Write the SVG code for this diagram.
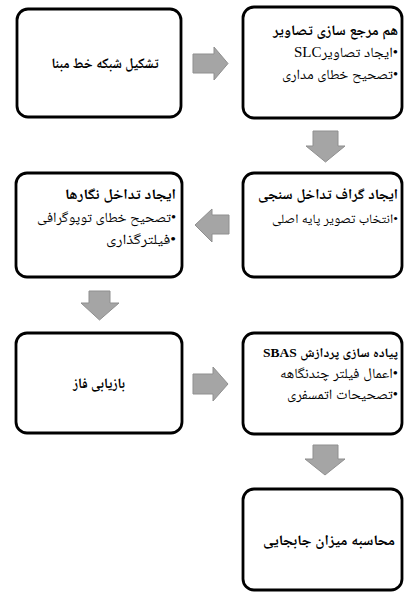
<svg xmlns="http://www.w3.org/2000/svg" width="405" height="592" viewBox="0 0 405 592">
<style>
.box{fill:#fff;stroke:#000;stroke-width:2.8}
.arr{fill:#a5a5a5;stroke:#8f8f8f;stroke-width:1}
text{font-family:"Liberation Serif","Noto Naskh Arabic","Noto Sans Arabic","DejaVu Sans",serif;fill:#000;direction:rtl;unicode-bidi:embed}
.t{font-size:14.5px;font-weight:bold}
.b{font-size:14px}
.s{font-size:13px}
.c{text-anchor:middle}
.r{text-anchor:start}
</style>
<rect width="405" height="592" fill="#fff"/>
<g id="connectors">
<polygon class="arr" points="193,54 214,54 214,47 228,63.5 214,80 214,73 193,73"/>
<polygon class="arr" points="313,131 338,131 338,146 345,146 325.5,162 306,146 313,146"/>
<polygon class="arr" points="229,215 212,215 212,209 195,225 212,242 212,234 229,234"/>
<polygon class="arr" points="89,291 110,291 110,303 119,303 99.5,320 81,303 89,303"/>
<polygon class="arr" points="193,374 213,374 213,367 228,384 213,401 213,394 193,394"/>
<polygon class="arr" points="313,445 338,445 338,459 345,459 325,475 305,459 313,459"/>
</g>
<g id="n1">
<rect class="box" x="17" y="9" width="164" height="108" rx="11"/>
<text class="t c" x="105" y="68" textLength="107" lengthAdjust="spacingAndGlyphs">تشکیل شبکه خط مبنا</text>
</g>
<g id="n2">
<rect class="box" x="243" y="7" width="159" height="111" rx="11"/>
<text class="t r" x="398" y="35" textLength="125" lengthAdjust="spacingAndGlyphs">هم مرجع سازی تصاویر</text>
<text class="b r" x="398" y="57" textLength="104" lengthAdjust="spacingAndGlyphs">•ایجاد تصاویرSLC</text>
<text class="b r" x="398" y="79" textLength="116" lengthAdjust="spacingAndGlyphs">•تصحیح خطای مداری</text>
</g>
<g id="n3">
<rect class="box" x="243" y="173" width="159" height="104" rx="11"/>
<text class="t r" x="398" y="199" textLength="140" lengthAdjust="spacingAndGlyphs">ایجاد گراف تداخل سنجی</text>
<text class="b s r" x="398" y="223" textLength="126" lengthAdjust="spacingAndGlyphs">•انتخاب تصویر پایه اصلی</text>
</g>
<g id="n4">
<rect class="box" x="16" y="173" width="166" height="104" rx="11"/>
<text class="t r" x="176" y="199" textLength="111" lengthAdjust="spacingAndGlyphs">ایجاد تداخل نگارها</text>
<text class="b r" x="176" y="222" textLength="139" lengthAdjust="spacingAndGlyphs">•تصحیح خطای توپوگرافی</text>
<text class="b r" x="176" y="244" textLength="70" lengthAdjust="spacingAndGlyphs">•فیلترگذاری</text>
</g>
<g id="n5">
<rect class="box" x="16" y="333" width="166" height="100" rx="11"/>
<text class="t c" x="99" y="388" textLength="52" lengthAdjust="spacingAndGlyphs">بازیابی فاز</text>
</g>
<g id="n6">
<rect class="box" x="243" y="333" width="159" height="101" rx="11"/>
<text class="t s r" x="398" y="357" textLength="135" lengthAdjust="spacingAndGlyphs">پیاده سازی پردازش SBAS</text>
<text class="b r" x="398" y="378" textLength="118" lengthAdjust="spacingAndGlyphs">•اعمال فیلتر چندنگاهه</text>
<text class="b r" x="398" y="399" textLength="111" lengthAdjust="spacingAndGlyphs">•تصحیحات اتمسفری</text>
</g>
<g id="n7">
<rect class="box" x="243" y="489" width="159" height="101" rx="11"/>
<text class="t c" x="329" y="545" textLength="132" lengthAdjust="spacingAndGlyphs">محاسبه میزان جابجایی</text>
</g>
</svg>
